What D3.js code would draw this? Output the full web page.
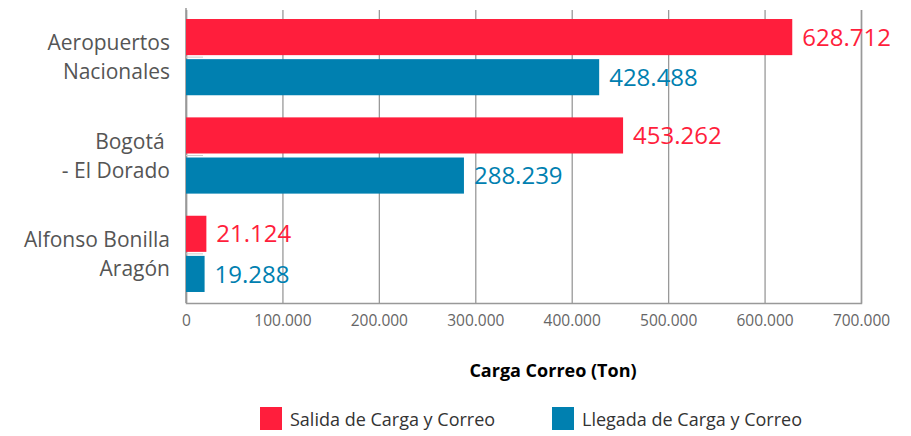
<!DOCTYPE html>
<html>
<head>
<meta charset="utf-8">
<script src="https://cdn.jsdelivr.net/npm/d3@7"></script>
<style>
  body { margin: 0; background: #fff; }
  text { font-family: "Open Sans", "Noto Sans", sans-serif; }
</style>
</head>
<body>
<div id="chart"></div>
<script>
// data
var airports = [["Aeropuertos", "Nacionales"], ["Bogotá ", "- El Dorado"], ["Alfonso Bonilla", "Aragón"]];
var salida = [628712, 453262, 21124];
var llegada = [428488, 288239, 19288];
var seriesNames = ["Salida de Carga y Correo", "Llegada de Carga y Correo"];
var seriesColors = ["#ff1e3c", "#0080b0"];
var xTicks = [0, 100000, 200000, 300000, 400000, 500000, 600000, 700000];

var width = 911, height = 436;
var margin = {top: 8, right: 50, bottom: 133, left: 186};
var plotW = width - margin.left - margin.right,
    plotH = height - margin.top - margin.bottom;

var es = d3.formatLocale({decimal: ",", thousands: ".", grouping: [3], currency: ["$", ""]});
var fmt = es.format(",d");

var svg = d3.select("#chart").append("svg")
  .attr("width", width)
  .attr("height", height);

var g = svg.append("g")
  .attr("transform", "translate(" + margin.left + "," + margin.top + ")");

var x = d3.scaleLinear().domain([0, 700000]).range([0, plotW]);
var y = d3.scaleBand()
  .domain(d3.range(airports.length))
  .range([0, plotH])
  .paddingInner(0.225)
  .paddingOuter(0.112);
var sub = d3.scaleBand()
  .domain([0, 1])
  .range([0, y.bandwidth()])
  .paddingInner(0.1);

// gridlines + tick labels
var xAxis = d3.axisBottom(x)
  .tickValues(xTicks)
  .tickSize(-plotH + 2)
  .tickPadding(12)
  .tickFormat(function (d) { return fmt(d); });

var xg = g.append("g")
  .attr("transform", "translate(0," + plotH + ")")
  .call(xAxis);
xg.select(".domain").attr("stroke", "#999").attr("stroke-width", 1.5);
xg.selectAll(".tick line").attr("stroke", "#999").attr("stroke-width", 1.3);
xg.selectAll(".tick text")
  .attr("fill", "#666")
  .style("font-size", "15.5px");

// left axis line
g.append("line")
  .attr("x1", 0).attr("x2", 0)
  .attr("y1", 0).attr("y2", plotH)
  .attr("stroke", "#999")
  .attr("stroke-width", 1.5);

// small category ticks between the bars
g.selectAll(".cat-tick")
  .data(airports)
  .enter()
  .append("line")
  .attr("x1", 0).attr("x2", 17)
  .attr("y1", function (d, i) { return y(i) + y.bandwidth() / 2; })
  .attr("y2", function (d, i) { return y(i) + y.bandwidth() / 2; })
  .attr("stroke", "#ccc")
  .attr("stroke-width", 1);

var rows = airports.map(function (d, i) { return [salida[i], llegada[i]]; });

var grp = g.selectAll(".grp")
  .data(rows)
  .enter()
  .append("g")
  .attr("transform", function (d, i) { return "translate(0," + y(i) + ")"; });

grp.selectAll("rect")
  .data(function (d) { return d; })
  .enter()
  .append("rect")
  .attr("x", x(0))
  .attr("y", function (d, j) { return sub(j); })
  .attr("width", function (d) { return x(d) - x(0); })
  .attr("height", sub.bandwidth())
  .attr("fill", function (d, j) { return seriesColors[j]; });

grp.selectAll(".val")
  .data(function (d) { return d; })
  .enter()
  .append("text")
  .attr("x", function (d) { return x(d) + 10; })
  .attr("y", function (d, j) { return sub(j) + sub.bandwidth() / 2; })
  .attr("dy", "0.36em")
  .attr("fill", function (d, j) { return seriesColors[j]; })
  .style("font-size", "24px")
  .text(function (d) { return fmt(d); });

// category labels
var lab = g.selectAll(".cat")
  .data(airports)
  .enter()
  .append("text")
  .attr("text-anchor", "end")
  .attr("fill", "#555")
  .style("font-size", "21px")
  .attr("transform", function (d, i) {
    return "translate(-16," + (y(i) + y.bandwidth() / 2) + ")";
  });
lab.selectAll("tspan")
  .data(function (d) { return d; })
  .enter()
  .append("tspan")
  .attr("x", 0)
  .attr("y", function (d, k) { return k === 0 ? -7 : 22; })
  .style("white-space", "pre")
  .text(function (d) { return d; });

// axis title
svg.append("text")
  .attr("x", 553)
  .attr("y", 377)
  .attr("text-anchor", "middle")
  .style("font-size", "18px")
  .style("font-weight", "bold")
  .attr("fill", "#000")
  .text("Carga Correo (Ton)");

// legend
var legX = [260, 552];
var leg = svg.selectAll(".leg")
  .data(seriesNames)
  .enter()
  .append("g")
  .attr("transform", function (d, i) { return "translate(" + legX[i] + ",407)"; });
leg.append("rect")
  .attr("width", 22)
  .attr("height", 23)
  .attr("fill", function (d, i) { return seriesColors[i]; });
leg.append("text")
  .attr("x", 30)
  .attr("y", 19)
  .attr("fill", "#333")
  .style("font-size", "18px")
  .text(function (d) { return d; });
</script>
</body>
</html>
